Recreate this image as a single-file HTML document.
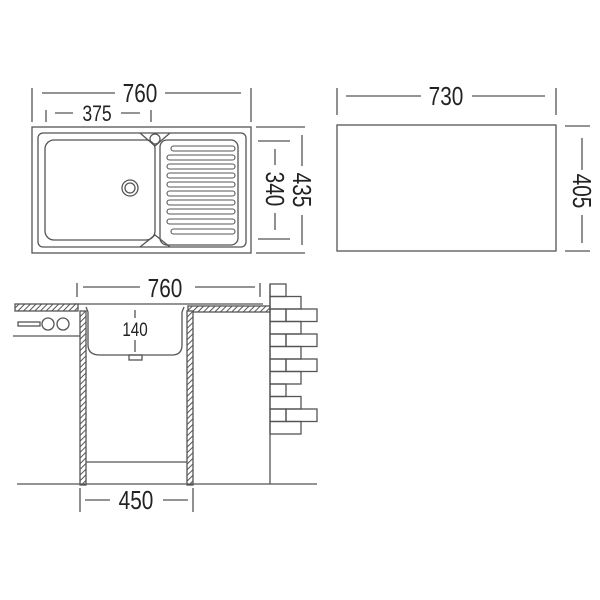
<!DOCTYPE html>
<html><head><meta charset="utf-8"><style>
html,body{margin:0;padding:0;background:#fff;}
svg{display:block;}
text{font-family:"Liberation Sans",sans-serif;fill:#222;}
</style></head><body>
<svg width="600" height="600" viewBox="0 0 600 600" xmlns="http://www.w3.org/2000/svg">
<defs>
<pattern id="h" width="4" height="4" patternUnits="userSpaceOnUse" patternTransform="rotate(45)">
<rect width="4" height="4" fill="#fff"/><line x1="0" y1="0" x2="0" y2="4" stroke="#555" stroke-width="2"/>
</pattern>
</defs>
<g stroke="#555" stroke-width="1.3" fill="none">
<line x1="32" y1="88" x2="32" y2="122"/><line x1="251" y1="88" x2="251" y2="122"/>
<line x1="42" y1="93" x2="115" y2="93"/><line x1="165" y1="93" x2="241" y2="93"/>
<line x1="46" y1="110" x2="46" y2="122"/><line x1="151" y1="110" x2="151" y2="122"/>
<line x1="55" y1="113" x2="73" y2="113"/><line x1="121" y1="113" x2="140" y2="113"/>
<rect x="32" y="127" width="219" height="126"/>
<rect x="38" y="133" width="208" height="114" rx="5"/>
<rect x="45" y="140" width="110" height="100" rx="9"/>
<rect x="160" y="140" width="78" height="105" rx="7"/>
<circle cx="155" cy="139" r="5"/>
<path d="M140 133 L155 146 L170 133 M140 247 L155 235 L170 247"/>
<circle cx="130" cy="188" r="8"/><circle cx="130" cy="188" r="5"/>
<g stroke-width="1.1">
<rect x="171" y="146" width="64" height="5" rx="2.5"/>
<rect x="167" y="155" width="68" height="5" rx="2.5"/>
<rect x="167" y="164" width="68" height="5" rx="2.5"/>
<rect x="167" y="173" width="68" height="5" rx="2.5"/>
<rect x="167" y="182" width="68" height="5" rx="2.5"/>
<rect x="167" y="191" width="68" height="5" rx="2.5"/>
<rect x="167" y="200" width="68" height="5" rx="2.5"/>
<rect x="167" y="209" width="68" height="5" rx="2.5"/>
<rect x="167" y="219" width="68" height="5" rx="2.5"/>
<rect x="171" y="229" width="64" height="5" rx="2.5"/>
</g>
<line x1="256" y1="127" x2="305" y2="127"/><line x1="256" y1="253" x2="305" y2="253"/>
<line x1="258" y1="141" x2="290" y2="141"/><line x1="258" y1="239" x2="290" y2="239"/>
<line x1="302" y1="135" x2="302" y2="166"/><line x1="302" y1="215" x2="302" y2="245"/>
<line x1="275" y1="149" x2="275" y2="165"/><line x1="275" y1="213" x2="275" y2="230"/>
<rect x="337" y="125" width="219" height="126"/>
<line x1="337" y1="88" x2="337" y2="115"/><line x1="556" y1="88" x2="556" y2="115"/>
<line x1="346" y1="96" x2="421" y2="96"/><line x1="472" y1="96" x2="545" y2="96"/>
<line x1="565" y1="126" x2="590" y2="126"/><line x1="565" y1="251" x2="590" y2="251"/>
<line x1="582" y1="138" x2="582" y2="170"/><line x1="582" y1="215" x2="582" y2="243"/>
<line x1="77" y1="283" x2="77" y2="297"/><line x1="260" y1="283" x2="260" y2="297"/>
<line x1="83" y1="287" x2="140" y2="287"/><line x1="195" y1="287" x2="255" y2="287"/>
<line x1="75" y1="304" x2="263" y2="304"/>
<rect x="15" y="304" width="63" height="7" fill="url(#h)"/>
<rect x="188" y="306" width="82" height="6" fill="url(#h)"/>
<rect x="80" y="311" width="6" height="174" fill="url(#h)"/>
<rect x="187" y="311" width="6" height="174" fill="url(#h)"/>
<path d="M86 307 L88 312 L88 345 Q88 355 100 355 L172 355 Q182 355 182 345 L182 312 L184 307"/>
<rect x="129" y="355" width="13" height="5"/>
<line x1="135" y1="310" x2="135" y2="318"/><line x1="135" y1="340" x2="135" y2="352"/>
<line x1="13" y1="336" x2="80" y2="336"/>
<rect x="18" y="322" width="22" height="4"/>
<circle cx="48" cy="324" r="6"/><circle cx="63" cy="324" r="6"/>
<line x1="86" y1="462" x2="187" y2="462"/>
<line x1="17" y1="484" x2="317" y2="484"/>
<line x1="270" y1="284" x2="270" y2="484"/>
<line x1="80" y1="488" x2="80" y2="512"/><line x1="193" y1="488" x2="193" y2="512"/>
<line x1="85" y1="500" x2="110" y2="500"/><line x1="163" y1="500" x2="188" y2="500"/>
<rect x="270" y="284" width="16" height="12.5"/>
<rect x="270" y="296.5" width="31" height="12.5"/>
<rect x="270" y="309" width="16" height="12.5"/><rect x="286" y="309" width="31" height="12.5"/>
<rect x="270" y="321.5" width="31" height="12.5"/>
<rect x="270" y="334" width="16" height="12.5"/><rect x="286" y="334" width="31" height="12.5"/>
<rect x="270" y="346.5" width="31" height="12.5"/>
<rect x="270" y="359" width="16" height="12.5"/><rect x="286" y="359" width="31" height="12.5"/>
<rect x="270" y="371.5" width="31" height="12.5"/>
<rect x="270" y="384" width="16" height="12.5"/>
<rect x="270" y="396.5" width="31" height="12.5"/>
<rect x="270" y="409" width="16" height="12.5"/><rect x="286" y="409" width="31" height="12.5"/>
<rect x="270" y="421.5" width="31" height="12.5"/>
</g>
<g font-size="26" text-anchor="middle">
<text transform="translate(140,102) scale(0.8,1)">760</text>
<text transform="translate(97,121) scale(0.8,1)" font-size="22">375</text>
<text transform="translate(446,105) scale(0.8,1)">730</text>
<text transform="translate(165,297) scale(0.8,1)">760</text>
<text transform="translate(136,509) scale(0.8,1)">450</text>
<text transform="translate(135,336) scale(0.8,1)" font-size="19">140</text>
<text transform="translate(293,190) rotate(90) scale(0.8,1)">435</text>
<text transform="translate(266,189) rotate(90) scale(0.8,1)">340</text>
<text transform="translate(573,191) rotate(90) scale(0.8,1)">405</text>
</g>
</svg>
</body></html>
